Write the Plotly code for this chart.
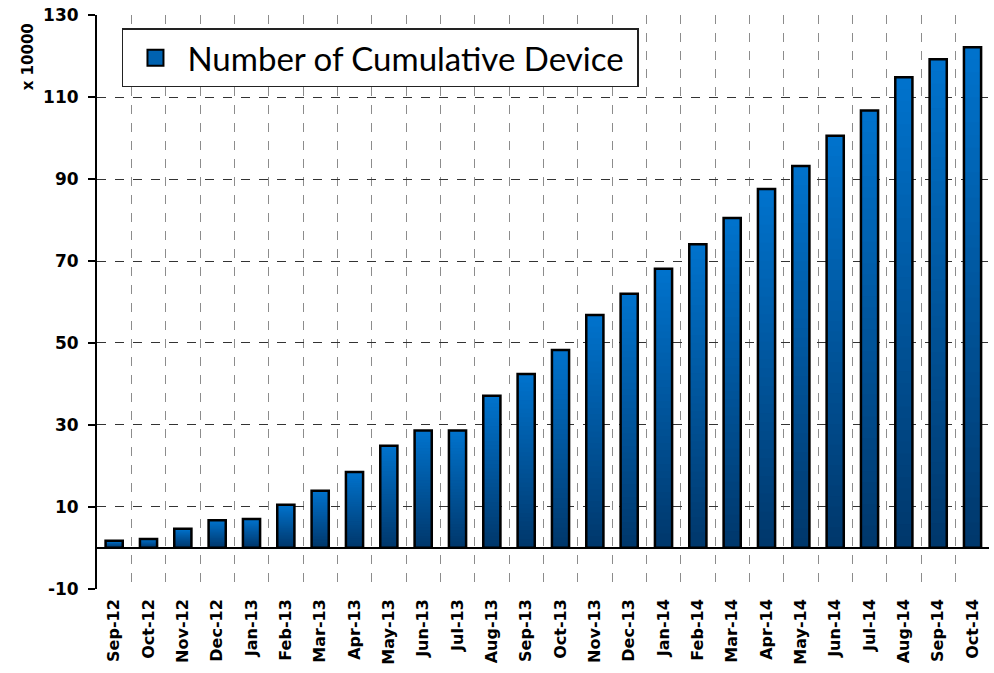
import plotly.graph_objects as go

months = ["Sep-12", "Oct-12", "Nov-12", "Dec-12", "Jan-13", "Feb-13", "Mar-13", "Apr-13",
          "May-13", "Jun-13", "Jul-13", "Aug-13", "Sep-13", "Oct-13", "Nov-13", "Dec-13",
          "Jan-14", "Feb-14", "Mar-14", "Apr-14", "May-14", "Jun-14", "Jul-14", "Aug-14",
          "Sep-14", "Oct-14"]
devices = [1.7, 2.1, 4.6, 6.7, 7.0, 10.5, 13.9, 18.5,
           24.9, 28.6, 28.6, 37.1, 42.4, 48.3, 56.8, 62.0,
           68.1, 74.1, 80.5, 87.6, 93.2, 100.6, 106.8, 114.9,
           119.3, 122.2]
series_name = "Number of Cumulative Device"
y_ticks = [-10, 10, 30, 50, 70, 90, 110, 130]
y_ticktext = ["-10", "10", "30", "50", "70", "90", "110", "130"]

# gradient colours (bottom dark -> top light)
dark = (0, 56, 108)
light = (0, 114, 204)
N = 40
BW = 0.5

fig = go.Figure()
for i in range(N):
    t = i / (N - 1)
    c = tuple(round(dark[k] + (light[k] - dark[k]) * t) for k in range(3))
    fig.add_trace(go.Bar(
        x=months,
        base=[v * i / N for v in devices],
        y=[v * (1 - i / N) for v in devices],
        width=BW,
        marker=dict(color="rgb(%d,%d,%d)" % c, line=dict(width=0)),
        showlegend=False, hoverinfo="skip",
    ))
# outline
fig.add_trace(go.Bar(
    x=months, y=devices, width=BW,
    marker=dict(color="rgba(0,0,0,0)", line=dict(color="black", width=2.5)),
    showlegend=False, name=series_name,
))
# legend entry
fig.add_trace(go.Scatter(
    x=[None], y=[None], mode="markers", name=series_name + "\u00a0",
    marker=dict(symbol="square", size=19, color="rgb(0,98,176)",
                line=dict(color="black", width=2)),
))

fig.update_layout(
    width=994, height=673,
    margin=dict(l=97, r=5, t=15, b=84, autoexpand=False),
    paper_bgcolor="white", plot_bgcolor="white",
    barmode="overlay",
    font=dict(family="DejaVu Sans", color="black"),
    showlegend=True,
    legend=dict(x=0.028, y=0.977, xanchor="left", yanchor="top",
                bgcolor="white", bordercolor="#222", borderwidth=1.5,
                font=dict(family="Lato", size=33, color="black"),
                itemsizing="trace", itemwidth=54, tracegroupgap=0),
    xaxis=dict(
        type="category", tickangle=-90, tickson="boundaries",
        showgrid=True, gridcolor="#8c8c8c", griddash="dash", gridwidth=1,
        ticks="", showline=False, zeroline=False, automargin=False,
        ticklabelstandoff=6,
        tickfont=dict(family="DejaVu Sans", size=16, color="black", weight="bold"),
        range=[-0.5, len(months) - 0.52],
    ),
    yaxis=dict(
        range=[-10.1, 130.1], tickvals=y_ticks, ticktext=y_ticktext,
        automargin=False, ticklabeloverflow="allow", ticklabelstandoff=6,
        showgrid=True, gridcolor="#333333", griddash="dash", gridwidth=1,
        showline=True, linecolor="black", linewidth=2,
        ticks="outside", ticklen=7, tickcolor="black", tickwidth=1.5,
        zeroline=True, zerolinecolor="black", zerolinewidth=2,
        tickfont=dict(family="DejaVu Sans", size=17, color="black", weight="bold"),
    ),
    annotations=[dict(
        text="x 10000", textangle=-90, xref="paper", yref="paper",
        x=-0.078, y=0.927, xanchor="center", yanchor="middle", showarrow=False,
        font=dict(family="DejaVu Sans", size=15, color="black", weight="bold"),
    )],
)

fig.write_html("out.html", config={"displayModeBar": False},
               post_script="document.body.style.margin='0';")
